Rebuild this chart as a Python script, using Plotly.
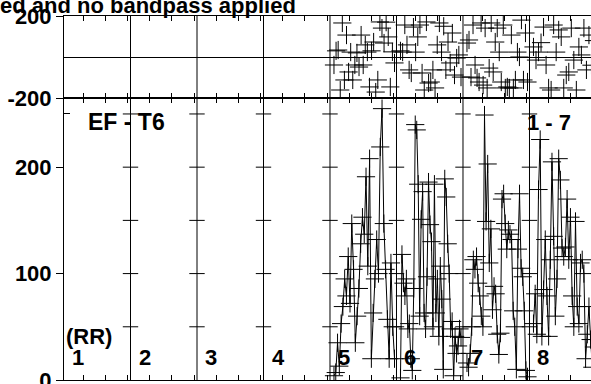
import plotly.graph_objects as go

# ---------------- data ----------------
segments = [1, 2, 3, 4, 5, 6, 7, 8]
segment_labels = ["1", "2", "3", "4", "5", "6", "7", "8"]
boundaries = [1, 2, 3, 4, 5, 6, 7]

title_text = "ed and no bandpass applied"
panel_label_left = "EF - T6"
panel_label_right = "1 - 7"
unit_label = "(RR)"

# lower panel (RR values) per segment, in time order
low5 = [4, 7, 35, 13, 53, 69, 95, 79, 116, 72, 147, 104, 35, 60, 86, 128, 153, 137,
        191, 107, 208, 20, 63, 95, 132, 100, 219, 255, 147, 104, 57, 20, 110, 50, 20]
low6 = [2, 118, 91, 79, 95, 48, 53, 20, 9, 86, 240, 235, 184, 60, 151, 177, 63, 48, 97,
        186, 146, 130, 50, 184, 63, 95, 41, 107, 76, 10, 189, 172, 128, 100, 48, 55, 4,
        41, 25, 32, 48, 40]
low7 = [16, 12, 25, 50, 113, 104, 116, 91, 79, 60, 50, 249, 149, 203, 110, 142, 66, 88,
        81, 43, 24, 44, 170, 175, 147, 123, 141, 137, 132, 65, 50, 10, 123, 175, 105, 97,
        65, 9, 3]
low8 = [53, 81, 43, 179, 226, 41, 85, 132, 79, 41, 113, 205, 135, 60, 95, 208, 188, 124,
        116, 125, 170, 113, 153, 79, 50, 149, 69, 53, 110, 113, 100, 20, 43, 69, 38, 12, 31]

# upper panel (-200..200) per segment, in time order
up5 = [-39, 30, 34, -161, 166, -112, 107, -73, 24, -112, -39, 20, -49, 107, -39, 59, 24,
       -146, 30, 73, -171, -112, 171, 141, 68, 170, 98, -146, 25, -29]
up6 = [30, 24, 156, 59, -63, -78, 146, 24, 98, 156, -78, -161, 171, -127, -122, -63, -151,
       59, 166, 24, 150, -63, 73, -29, 117, -88, -5, 10, -98]
up7 = [68, 83, -98, 156, -39, -102, -122, 166, -137, 141, -151, -54, 166, -73, 73, 141,
       24, -122, 156, -151, -146, -151, 107, -151, -112, 24, 0, 180, -112, 117, -122]
up8 = [49, -15, 24, 70, 146, -39, -151, -161, 156, 24, 132, 98, -151, -88, -73, 141, -15,
       -161, 49, 10, 141, -63, 107, -40, 80]

low_series = {5: low5, 6: low6, 7: low7, 8: low8}
up_series = {5: up5, 6: up6, 7: up7, 8: up8}

low_ticks = [0, 100, 200]
low_minor = [250]
up_ticks = [-200, 200]
seg_ticks = [50, 100, 150, 200, 250]

# ---------------- figure ----------------
FONT = "Liberation Sans"
fig = go.Figure()


def seg_x(seg, n):
    return [seg - 1 + 0.06 + 0.91 * i / (n - 1) for i in range(n)]


marker = dict(symbol="cross-thin", size=13, color="black",
              line=dict(color="black", width=1))

for seg, vals in low_series.items():
    fig.add_trace(go.Scatter(x=seg_x(seg, len(vals)), y=vals, mode="lines+markers",
                             line=dict(color="black", width=1), marker=marker,
                             xaxis="x", yaxis="y", showlegend=False, hoverinfo="skip"))

for seg, vals in up_series.items():
    fig.add_trace(go.Scatter(x=seg_x(seg, len(vals)), y=vals, mode="markers",
                             marker=marker, xaxis="x2", yaxis="y2",
                             showlegend=False, hoverinfo="skip"))

# small ticks on the segment divider lines (lower panel)
tx, ty = [], []
for b in boundaries:
    for t in seg_ticks:
        tx.append(b)
        ty.append(t)
fig.add_trace(go.Scatter(x=tx, y=ty, mode="markers", xaxis="x", yaxis="y",
                         marker=dict(symbol="line-ew", size=11,
                                     line=dict(color="black", width=1)),
                         showlegend=False, hoverinfo="skip"))

for b in boundaries:
    fig.add_shape(type="line", xref="x", yref="paper", x0=b, x1=b, y0=0, y1=1,
                  line=dict(color="black", width=1))

split = (380 - 98) / 364
xr = [0, 7.925]

xcommon = dict(range=xr, showgrid=False, zeroline=False, showline=True,
               linecolor="black", linewidth=1, mirror="ticks", ticks="inside",
               ticklen=5, tickcolor="black", tickmode="linear", tick0=0.29,
               dtick=1 / 3, showticklabels=False, automargin=False)
tickfont = dict(family=FONT, size=22, color="black", weight="bold")

fig.update_layout(
    width=591, height=384,
    margin=dict(l=64, r=0, t=16, b=4, autoexpand=False),
    paper_bgcolor="white", plot_bgcolor="white",
    xaxis=dict(**xcommon, anchor="y"),
    xaxis2=dict(**xcommon, anchor="y2", matches="x"),
    yaxis=dict(domain=[0, split], range=[0, 265], tickmode="array", tickvals=low_ticks,
               ticktext=[str(v) for v in low_ticks], ticks="outside", ticklen=7,
               tickcolor="black", showline=True, linecolor="black", linewidth=1,
               showgrid=False, zeroline=False, tickfont=tickfont, automargin=False,
               ticklabeloverflow="allow",
               minor=dict(tickvals=low_minor, ticks="inside", ticklen=6,
                          tickcolor="black")),
    yaxis2=dict(domain=[split, 1], range=[-200, 200], tickmode="array",
                tickvals=up_ticks, ticktext=[str(v) for v in up_ticks],
                ticks="outside", ticklen=7, tickcolor="black", showline=True,
                linecolor="black", linewidth=1, showgrid=False, zeroline=True,
                zerolinecolor="black", zerolinewidth=1, tickfont=tickfont,
                automargin=False, ticklabeloverflow="allow"),
    font=dict(family=FONT, color="black"),
)

afont = dict(family=FONT, size=22, color="black", weight="bold")
ann = [
    dict(text=title_text, xref="paper", yref="paper", x=(298 - 64) / 527,
         y=(380 - 5) / 364, xanchor="right", yanchor="middle", showarrow=False,
         font=afont),
    dict(text=panel_label_left, xref="paper", yref="y", x=(86 - 64) / 527, y=242,
         xanchor="left", yanchor="middle", showarrow=False,
         font=dict(family=FONT, size=23, color="black", weight="bold")),
    dict(text=panel_label_right, xref="paper", yref="y", x=(525 - 64) / 527, y=242,
         xanchor="left", yanchor="middle", showarrow=False, font=afont),
    dict(text=unit_label, xref="x", yref="y", x=0, xshift=0, y=41,
         xanchor="left", yanchor="middle", showarrow=False, font=afont),
]
for s, lab in zip(segments, segment_labels):
    ann.append(dict(text=lab, xref="x", yref="y", x=s - 1, xshift=6, y=21,
                    xanchor="left", yanchor="middle", showarrow=False, font=afont))
fig.update_layout(annotations=ann)

fig.write_html("out.html", config={"displayModeBar": False},
               post_script="document.body.style.margin='0px';"
                           "document.body.style.overflow='hidden';")
